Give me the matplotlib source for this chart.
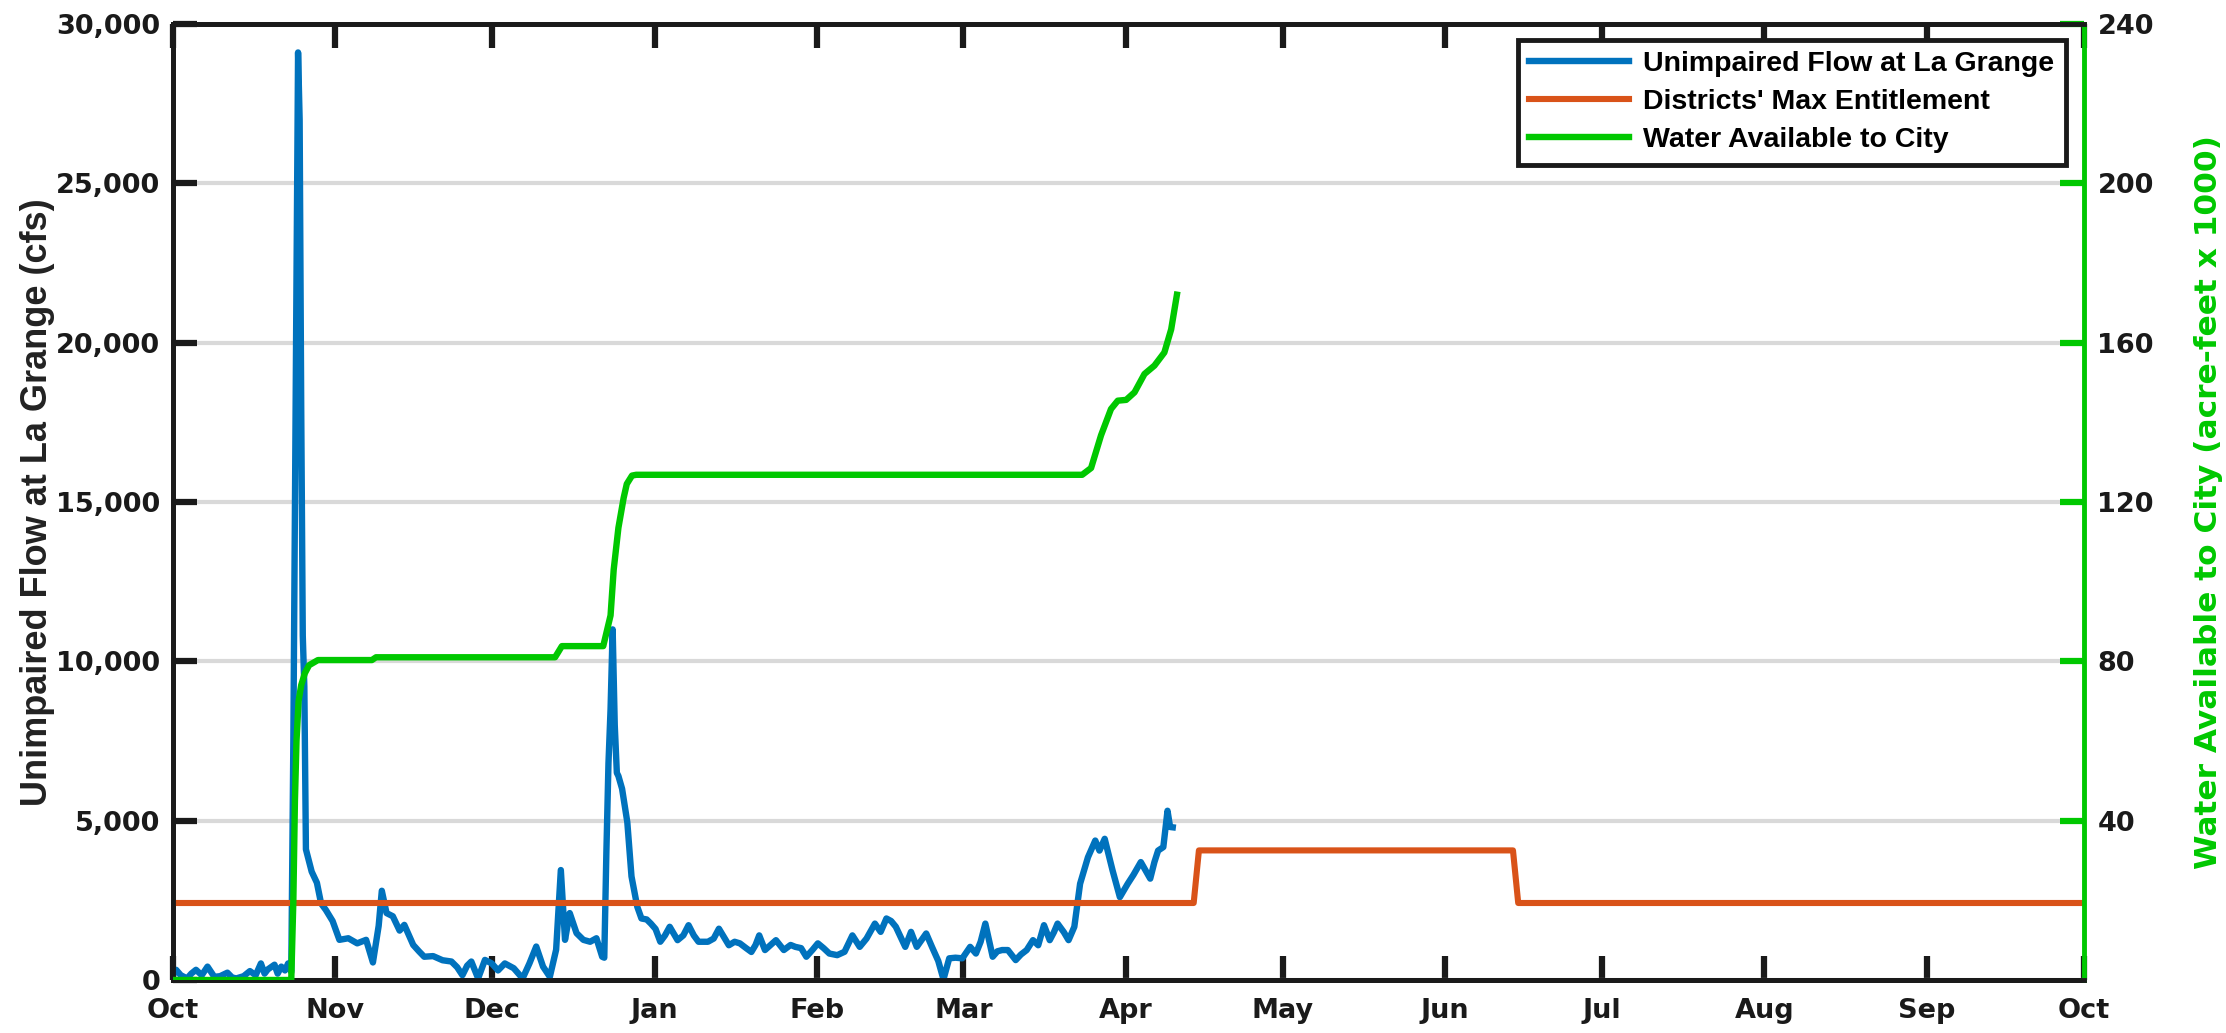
import matplotlib
matplotlib.use("Agg")
import matplotlib.pyplot as plt
from matplotlib.ticker import FuncFormatter, FixedLocator

# ---------------- data (days since Oct 1) ----------------
flow_days = [0, 0.6, 1.5, 2.7, 3.5, 4.4, 5.5, 6.6, 7.9, 9.0, 10.4, 11.3, 12.1, 13.5, 14.7,
             15.8, 16.8, 17.5, 18.1, 19.4, 20.0, 20.7, 21.4, 22.0, 22.6,
             23.0, 23.3, 23.6, 23.9, 24.2, 24.5, 24.8, 25.1, 25.4, 25.8, 26.5, 27.5, 28.3,
             29.2, 30.5, 31.8, 33.5, 35.2, 36.9, 38.2, 39.3, 39.9, 40.8, 42.0, 43.3, 44.2,
             45.9, 47.0, 48.0, 49.7, 51.5, 53.2, 54.3, 55.3, 56.2, 57.0, 58.3, 59.6, 60.9,
             62.1, 63.4, 65.1, 66.8, 68.1, 69.4, 70.7, 72.0, 73.2, 74.1, 74.9, 75.8, 77.1,
             78.4, 79.7, 80.9, 82.0, 82.4,
             82.8, 83.2, 83.6, 84.0, 84.4, 84.8, 85.1, 85.8, 86.8, 87.6, 88.7, 89.5, 90.5,
             91.3, 92.2, 93.1, 94.0, 94.9, 96.4, 97.5, 98.5, 99.5, 100.4, 102.2, 103.3,
             104.3, 106.2, 107.3, 108.3, 109.5, 110.5, 111.3, 112.0, 113.1, 114.2, 115.2,
             116.7, 118.0, 118.9, 120.0, 121.0, 122.2, 123.2, 124.3, 125.4, 126.9, 128.3,
             129.8, 131.2, 132.5, 134.1, 135.2, 136.3, 137.2, 138.1, 139.9, 141.0, 142.1,
             143.9, 145.0, 146.2, 147.2, 148.3, 149.5, 150.8, 152.3, 153.4, 154.3, 155.2,
             156.6, 157.5, 158.4, 159.5, 161.0, 162.0, 163.1, 164.3, 165.3, 166.4, 167.5,
             168.3, 169.0, 170.2, 171.1, 172.2, 173.3, 174.8, 176.2, 177.0, 178.0, 179.5,
             180.9, 182.4, 183.5, 184.9, 186.7, 187.5, 188.2, 189.2, 190.0, 190.5, 191.0]
flow_cfs = [150, 320, 150, 50, 200, 320, 150, 420, 100, 120, 230, 80, 50, 120, 280,
            150, 520, 200, 330, 480, 200, 420, 300, 520, 250,
            7500, 15000, 22000, 29100, 27000, 18000, 10800, 9200, 4100, 3850, 3400, 3050, 2400,
            2200, 1850, 1260, 1310, 1150, 1260, 550, 1700, 2800, 2100, 2000, 1550, 1730,
            1100, 900, 730, 750, 620, 580, 400, 150, 450, 580, 50, 630, 520,
            300, 520, 370, 50, 520, 1050, 420, 100, 950, 3450, 1260, 2100, 1470,
            1260, 1200, 1310, 730, 700,
            4000, 6800, 8500, 11000, 8000, 6500, 6400, 6000, 4950, 3250, 2300, 1930, 1900,
            1770, 1600, 1200, 1400, 1670, 1250, 1400, 1720, 1400, 1200, 1200, 1300,
            1610, 1090, 1200, 1150, 1000, 880, 1100, 1400, 940, 1100, 1250,
            940, 1100, 1040, 1000, 730, 950, 1150, 1000, 830, 780, 885,
            1400, 1040, 1300, 1770, 1510, 1930, 1850, 1670, 1040, 1510, 1040,
            1460, 1040, 600, 20, 680, 700, 680, 1040, 830, 1200, 1770,
            730, 900, 940, 940, 625, 800, 940, 1250, 1090, 1720, 1250,
            1500, 1770, 1500, 1250, 1670, 3020, 3850, 4375, 4060, 4430, 3440,
            2600, 3020, 3300, 3700, 3180, 3700, 4060, 4170, 5310, 4800, 4790]

entitle_days = [0, 195, 196, 256, 257, 365]
entitle_cfs = [2416, 2416, 4066, 4066, 2416, 2416]

city_days = [0, 22.6, 23.0, 23.3, 23.6, 24.0, 24.5, 25.2, 26.0, 27.7, 38.0, 38.8, 73.0,
             74.3, 82.2, 83.6, 84.2, 85.1, 86.1, 86.7, 87.7, 88.5, 173.7, 175.4, 177.3,
             179.2, 180.5, 182.1, 183.7, 185.6, 187.5, 189.4, 190.7, 191.8]
city_kaf = [0, 0, 20, 45, 60, 70, 74, 77, 79, 80.3, 80.3, 81.0, 81.0,
            83.8, 83.8, 91.5, 103, 113.5, 121, 124.5, 126.6, 126.8, 126.8, 128.5, 136.7,
            143.3, 145.4, 145.6, 147.5, 152.1, 154.2, 157.5, 163.3, 172]

month_labels = ["Oct", "Nov", "Dec", "Jan", "Feb", "Mar", "Apr", "May", "Jun",
                "Jul", "Aug", "Sep", "Oct"]
month_lengths = [31, 30, 31, 31, 28, 31, 30, 31, 30, 31, 31, 30]

# ---------------- style ----------------
BLUE = "#0072BD"
ORANGE = "#D95319"
GREEN = "#00C800"
TICK_SIZE = 19.5

fig = plt.figure(figsize=(22.26, 10.33), dpi=100)
ax = fig.add_axes([0.0777, 0.0513, 0.936 - 0.0777, 0.977 - 0.0513])
ax2 = ax.twinx()

ax.plot(flow_days, flow_cfs, color=BLUE, lw=4.6, solid_joinstyle="round",
        label="Unimpaired Flow at La Grange", zorder=3)
ax.plot(entitle_days, entitle_cfs, color=ORANGE, lw=4.4,
        label="Districts' Max Entitlement", zorder=4)
ax2.plot(city_days, city_kaf, color=GREEN, lw=4.6, solid_joinstyle="round",
         label="Water Available to City", zorder=5)

# x axis
month_starts = [0]
for m in month_lengths:
    month_starts.append(month_starts[-1] + m)
ax.set_xlim(0, 365)
ax.xaxis.set_major_locator(FixedLocator(month_starts))
ax.set_xticklabels(month_labels)

# left y axis
ax.set_ylim(0, 30000)
ax.set_yticks(range(0, 30001, 5000))
ax.yaxis.set_major_formatter(FuncFormatter(lambda v, p: f"{int(v):,}"))
ax.grid(axis="y", color="#d9d9d9", lw=3, zorder=0)
ax.set_axisbelow(True)

ax.tick_params(axis="x", which="both", direction="in", length=17, width=4.5,
               top=True, bottom=True, pad=13, colors="#1a1a1a")
ax.tick_params(axis="y", which="both", direction="in", length=17, width=4.5,
               left=True, right=False, pad=9, colors="#1a1a1a")
for lab in ax.get_xticklabels() + ax.get_yticklabels():
    lab.set_fontfamily("DejaVu Sans")
    lab.set_fontweight("bold")
    lab.set_fontsize(TICK_SIZE)

ax.set_ylabel("Unimpaired Flow at La Grange (cfs)",
              family=["Liberation Sans Narrow", "Liberation Sans"],
              weight="bold", size=26, color="#222222")
ax.yaxis.set_label_coords(-0.062, 0.5)

# right y axis
ax2.set_ylim(0, 240)
ax2.set_yticks([40, 80, 120, 160, 200, 240])
ax2.tick_params(axis="y", direction="in", length=17, width=4.5, colors=GREEN,
                labelcolor="#1a1a1a", pad=10)
for lab in ax2.get_yticklabels():
    lab.set_fontfamily("DejaVu Sans")
    lab.set_fontweight("bold")
    lab.set_fontsize(TICK_SIZE)
ax2.set_ylabel("Water Available to City (acre-feet x 1000)",
               family="DejaVu Sans", weight="bold", size=22.5, color=GREEN,
               rotation=90)
ax2.yaxis.set_label_coords(1.058, 0.5)

for a in (ax, ax2):
    for s in a.spines.values():
        s.set_linewidth(3.5)
        s.set_color("#1a1a1a")
ax2.spines["right"].set_color(GREEN)
ax.spines["right"].set_visible(False)

# legend
handles = ax.get_lines() + ax2.get_lines()
leg = ax2.legend(handles, [h.get_label() for h in handles], loc="upper right",
                 bbox_to_anchor=(0.9906, 0.983), borderaxespad=0,
                 prop=dict(family="Liberation Sans", weight="bold", size=20.5),
                 handlelength=3.5, handletextpad=0.5, labelspacing=0.42,
                 borderpad=0.4, fancybox=False, framealpha=1, edgecolor="#1a1a1a")
leg.get_frame().set_linewidth(3.5)
leg.set_zorder(10)

fig.savefig("out.png", dpi=100)
